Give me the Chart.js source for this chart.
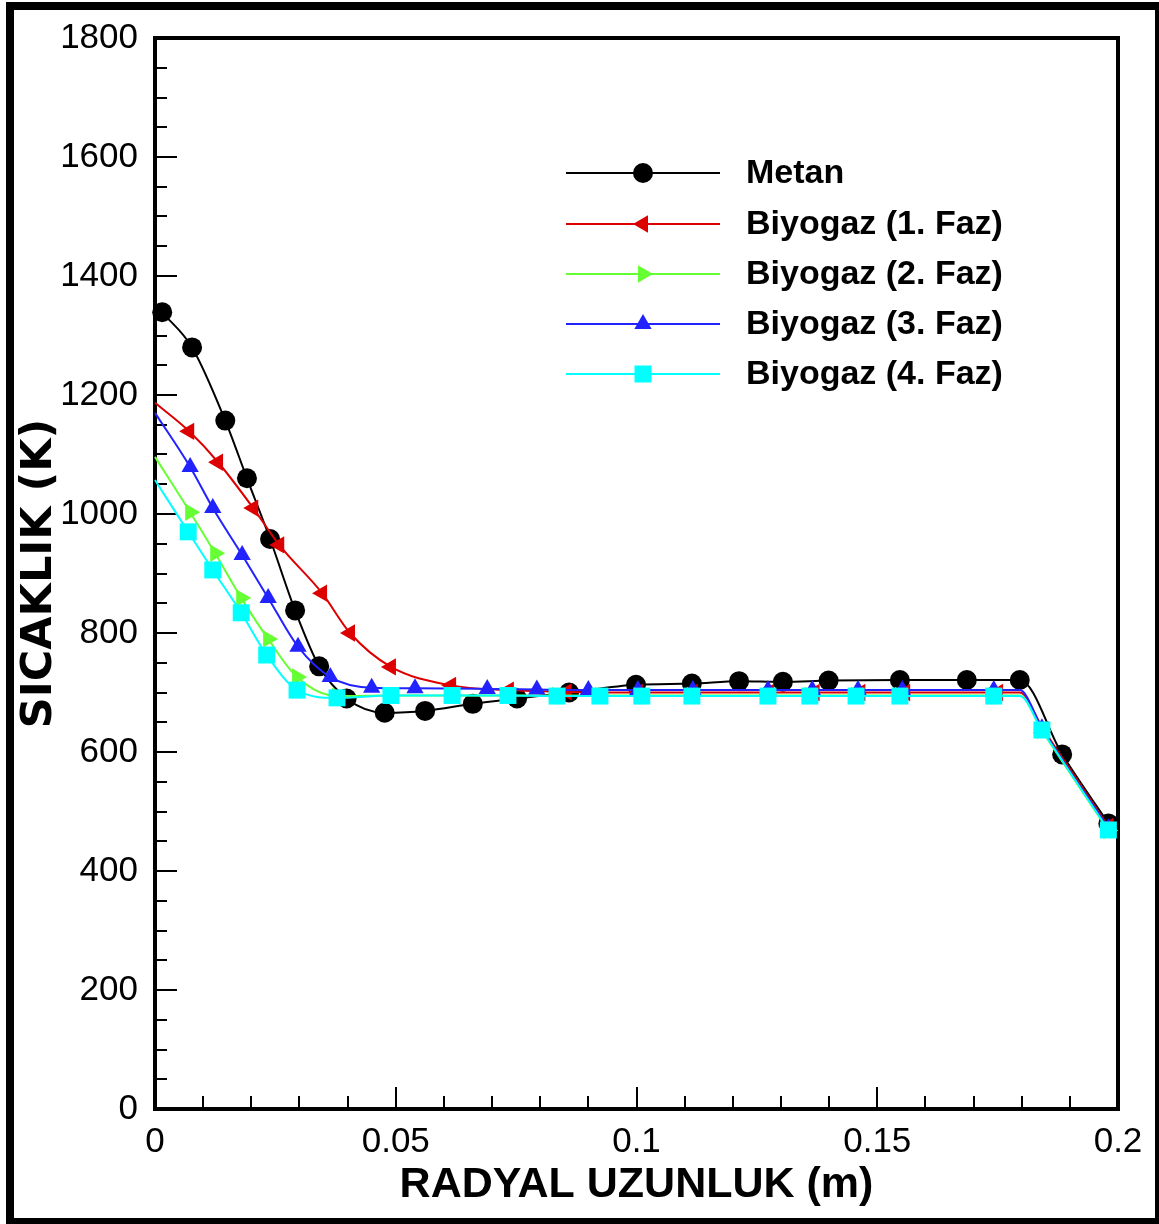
<!DOCTYPE html>
<html><head><meta charset="utf-8">
<script src="https://cdn.jsdelivr.net/npm/chart.js@4.4.1/dist/chart.umd.min.js"></script>
<style>
html,body{margin:0;padding:0;background:#fff;width:1159px;height:1224px;overflow:hidden;}
#wrap{position:absolute;left:0;top:0;width:1159px;height:1224px;}
#frame{position:absolute;left:6px;top:2px;width:1157px;height:1224px;border:8px solid #000;box-sizing:border-box;pointer-events:none;}
</style></head><body>
<div id="wrap"><canvas id="c" width="1159" height="1224"></canvas></div>
<div id="frame"></div>
<script>
// ---------- DATA ----------
const seriesNames = ['Metan','Biyogaz (1. Faz)','Biyogaz (2. Faz)','Biyogaz (3. Faz)','Biyogaz (4. Faz)'];

const xMetan = [0.0015,0.0077,0.0146,0.0191,0.0239,0.0291,0.0341,0.0398,0.0477,0.0561,0.0660,0.0752,0.0860,0.0999,0.1115,0.1213,0.1304,0.1399,0.1547,0.1686,0.1796,0.1884,0.1980];
const yMetan = [1339,1280,1157,1060,958,838,744,690,666,669,681,690,700,713,715,719,718,720,721,721,721,596,480];

const xFaz1 = [0,0.0071,0.0131,0.0204,0.0258,0.0347,0.0405,0.0490,0.0615,0.0735,0.0855,0.1003,0.1117,0.1275,0.1370,0.1465,0.1558,0.1751,0.1796,0.1845,0.1980];
const yFaz1 = [1187,1139,1087,1010,948,867,800,743,712,704,701,700,700,700,700,700,700,700,700,638,475];

const xFaz2 = [0,0.0073,0.0125,0.0179,0.0235,0.0295,0.0378,0.0490,0.0617,0.0733,0.0835,0.0924,0.1011,0.1115,0.1273,0.1360,0.1456,0.1547,0.1742,0.1796,0.1842,0.1980];
const yFaz2 = [1096,1003,934,859,790,726,694,695,695,695,695,695,695,695,695,695,695,695,695,695,636,468];

const xFaz3 = [0,0.0073,0.0120,0.0181,0.0235,0.0297,0.0364,0.0450,0.0540,0.0690,0.0793,0.0900,0.1003,0.1117,0.1273,0.1365,0.1460,0.1552,0.1742,0.1796,0.1842,0.1980];
const yFaz3 = [1170,1079,1010,931,859,777,726,708,707,706,705,704,704,704,704,704,704,704,704,704,640,472];

const xFaz4 = [0,0.0069,0.0120,0.0179,0.0232,0.0295,0.0378,0.0490,0.0617,0.0733,0.0835,0.0924,0.1011,0.1115,0.1273,0.1360,0.1456,0.1547,0.1742,0.1796,0.1842,0.1980];
const yFaz4 = [1057,970,906,834,763,704,691,695,695,695,694,694,694,694,694,694,694,694,694,694,637,469];

// points on the curve that carry no marker (line start and kink)
const noMarkerX = [0, 0.1796];

const xTickLabels = ['0','0.05','0.1','0.15','0.2'];
const yTickLabels = ['0','200','400','600','800','1000','1200','1400','1600','1800'];
const xTitle = 'RADYAL UZUNLUK (m)';
const yTitle = 'SICAKLIK (K)';

// ---------- STYLE ----------
const styles = [
  {color:'#000000', pointStyle:'circle',   rotation:0,   radius:10, order:4, markAll:true},
  {color:'#dd0000', pointStyle:'triangle', rotation:270, radius:10, order:3},
  {color:'#66ff33', pointStyle:'triangle', rotation:90,  radius:10, order:2},
  {color:'#2222ff', pointStyle:'triangle', rotation:0,   radius:10, order:1},
  {color:'#00ffff', pointStyle:'rect',     rotation:0,   radius:12, order:0}
];
const xs = [xMetan,xFaz1,xFaz2,xFaz3,xFaz4];
const ys = [yMetan,yFaz1,yFaz2,yFaz3,yFaz4];

const datasets = seriesNames.map((name,i)=>{
  const st = styles[i];
  return {
    label:name,
    data: xs[i].map((x,k)=>({x:x,y:ys[i][k]})),
    borderColor: st.color,
    backgroundColor: st.color,
    borderWidth: 2,
    pointStyle: st.pointStyle,
    rotation: st.rotation,
    pointRadius: (c)=> (st.markAll || !(c.raw && noMarkerX.includes(c.raw.x))) ? st.radius : 0,
    pointBorderWidth: 0,
    pointHoverRadius: st.radius,
    cubicInterpolationMode: 'monotone',
    clip: false,
    order: st.order
  };
});

const tickFont = {family:"'Liberation Sans',Arial,sans-serif", size:35};

const frameTicks = {
  id:'frameTicks',
  beforeDatasetsDraw(chart){
    const {ctx, chartArea:a, scales:{x,y}} = chart;
    ctx.save();
    ctx.strokeStyle = '#000';
    ctx.lineWidth = 2;
    ctx.beginPath();
    const xt = x.ticks.map(t=>t.value);
    const xStep = (xt[1]-xt[0])/5;
    for (let i=0;i<xt.length-1;i++){
      for (let j=0;j<5;j++){
        const px = Math.round(x.getPixelForValue(xt[i]+j*xStep));
        const len = j===0 ? 22 : 13;
        ctx.moveTo(px, a.bottom); ctx.lineTo(px, a.bottom-len);
      }
    }
    const yt = y.ticks.map(t=>t.value);
    const yStep = (yt[1]-yt[0])/4;
    for (let i=0;i<yt.length-1;i++){
      for (let j=0;j<4;j++){
        const py = Math.round(y.getPixelForValue(yt[i]+j*yStep));
        const len = j===0 ? 22 : 12;
        ctx.moveTo(a.left, py); ctx.lineTo(a.left+len, py);
      }
    }
    ctx.stroke();
    ctx.lineWidth = 4;
    ctx.strokeRect(a.left, a.top, a.right-a.left, a.bottom-a.top);
    ctx.restore();
  }
};

function drawMarker(ctx, st, x, y){
  if (Chart.helpers && Chart.helpers.drawPoint){
    Chart.helpers.drawPoint(ctx, {pointStyle:st.pointStyle, rotation:st.rotation, radius:st.radius, borderWidth:0}, x, y);
  } else {
    ctx.beginPath(); ctx.arc(x,y,st.radius,0,Math.PI*2); ctx.fill();
  }
}

const insideLegend = {
  id:'insideLegend',
  afterDatasetsDraw(chart){
    const ctx = chart.ctx;
    ctx.save();
    const x0 = 566, x1 = 720, xm = 643, xt = 746;
    const rowY = [173,224,274,324,374];
    chart.data.datasets.forEach((ds,i)=>{
      const st = styles[i];
      const y = rowY[i];
      ctx.strokeStyle = st.color; ctx.lineWidth = 2;
      ctx.beginPath(); ctx.moveTo(x0,y); ctx.lineTo(x1,y); ctx.stroke();
      ctx.fillStyle = st.color; ctx.strokeStyle = st.color;
      drawMarker(ctx, st, xm, y);
      ctx.fillStyle = '#000';
      ctx.font = "bold 34px 'Liberation Sans',Arial,sans-serif";
      ctx.textBaseline = 'middle'; ctx.textAlign = 'left';
      ctx.fillText(ds.label, xt, y+1);
    });
    ctx.restore();
  }
};

new Chart(document.getElementById('c'), {
  type:'line',
  data:{datasets},
  options:{
    responsive:false,
    animation:false,
    devicePixelRatio:1,
    layout:{padding:{top:38,right:41,left:0,bottom:0}},
    plugins:{legend:{display:false}, tooltip:{enabled:false}},
    scales:{
      x:{
        type:'linear', min:0, max:0.2,
        grid:{display:false}, border:{display:false},
        ticks:{stepSize:0.05, font:tickFont, color:'#000', padding:4, maxRotation:0,
          callback:(v,i)=>xTickLabels[i]},
        title:{display:true, text:xTitle, color:'#000',
          font:{family:"'Liberation Sans',Arial,sans-serif", size:43, weight:'bold'},
          padding:{top:0,bottom:13}},
        afterFit:(s)=>{s.height = 115;}
      },
      y:{
        type:'linear', min:0, max:1800,
        grid:{display:false}, border:{display:false},
        ticks:{stepSize:200, font:tickFont, color:'#000', padding:9,
          callback:(v,i)=>yTickLabels[i]},
        title:{display:true, text:yTitle, color:'#000',
          font:{family:"'DejaVu Sans',sans-serif", size:43, weight:'bold'},
          padding:{top:14,bottom:0}},
        afterFit:(s)=>{s.width = 155;}
      }
    }
  },
  plugins:[frameTicks, insideLegend]
});
</script>
</body></html>
